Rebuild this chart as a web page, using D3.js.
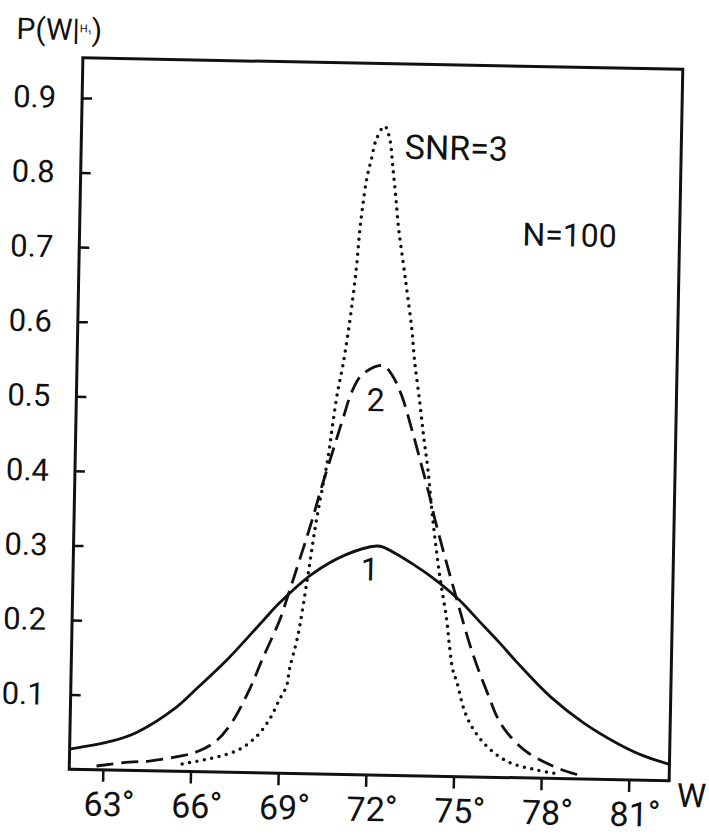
<!DOCTYPE html>
<html>
<head>
<meta charset="utf-8">
<script src="https://cdn.jsdelivr.net/npm/d3@7/dist/d3.min.js"></script>
<style>
  html, body { margin: 0; padding: 0; background: #fff; }
  svg { display: block; }
  text { font-family: Roboto, "Open Sans", sans-serif; fill: #111; }
</style>
</head>
<body>
<script>
// Axis ticks
const yTicks = [0.1, 0.2, 0.3, 0.4, 0.5, 0.6, 0.7, 0.8, 0.9];
const xTicks = [63, 66, 69, 72, 75, 78, 81];
const xTickLabels = ["63", "66", "69", "72", "75", "78", "81"];

// Curve 1 (solid)
const w1 = [61.85, 63.31, 64.13, 65.48, 66.15, 67.16, 68.36, 68.93, 70.04, 71.2, 72.22, 72.42,
            73.46, 74.4, 75.1, 75.8, 76.5, 77.09, 78.25, 79.39, 80.57, 81.47, 82.38];
const p1 = [0.027, 0.039, 0.051, 0.086, 0.111, 0.150, 0.203, 0.228, 0.268, 0.295, 0.307, 0.306,
            0.284, 0.259, 0.236, 0.208, 0.180, 0.155, 0.110, 0.076, 0.049, 0.033, 0.022];

// Curve 2 (dashed)
const w2 = [62.78, 63.9, 64.58, 65.72, 66.29, 66.87, 67.40, 67.97, 68.39, 68.95, 69.17, 70.01,
            70.23, 70.65, 70.97, 71.29, 71.63, 72.31, 72.66, 72.98, 73.34, 73.71, 74.0, 74.19,
            75.0, 75.58, 76.19, 76.44, 76.79, 77.49, 78.63, 79.43];
const p2 = [0.005, 0.011, 0.013, 0.021, 0.028, 0.042, 0.068, 0.112, 0.153, 0.205, 0.232, 0.342,
            0.375, 0.432, 0.475, 0.515, 0.537, 0.549, 0.535, 0.509, 0.465, 0.415, 0.375, 0.345,
            0.237, 0.165, 0.105, 0.082, 0.061, 0.035, 0.013, 0.004];

// Curve SNR=3 (dotted)
const w3 = [65.71, 66.88, 67.66, 68.24, 68.67, 69.0, 69.23, 69.32, 69.58, 69.88, 70.15, 70.49,
            70.63, 70.78, 70.94, 71.09, 71.24, 71.35, 71.43, 71.52, 71.64, 71.79, 71.95, 72.22,
            72.40, 72.52, 72.64, 72.77, 72.96, 73.08, 73.28, 73.40, 73.60, 73.76, 73.92, 74.12,
            74.40, 74.66, 74.79, 74.90, 75.05, 75.41, 75.98, 76.81, 77.71, 78.64];
const p3 = [0.010, 0.020, 0.031, 0.049, 0.072, 0.099, 0.117, 0.140, 0.184, 0.264, 0.342, 0.422,
            0.467, 0.512, 0.547, 0.588, 0.638, 0.682, 0.727, 0.762, 0.799, 0.826, 0.853, 0.870,
            0.853, 0.817, 0.777, 0.731, 0.683, 0.652, 0.599, 0.555, 0.501, 0.454, 0.412, 0.345,
            0.268, 0.211, 0.171, 0.144, 0.127, 0.081, 0.047, 0.022, 0.012, 0.006];

const W = 709, H = 835;
const svg = d3.select("body").append("svg").attr("width", W).attr("height", H);
svg.append("rect").attr("width", W).attr("height", H).attr("fill", "#fff");

// the whole plate sits slightly turned
const g = svg.append("g").attr("transform", "rotate(1.1 375 420)");

const x = d3.scaleLinear().domain([61.85, 82.38]).range([76, 676]);
const y = d3.scaleLinear().domain([0, 0.9537]).range([775, 63.5]);

// frame
g.append("rect")
  .attr("x", x.range()[0]).attr("y", y.range()[1])
  .attr("width", x.range()[1] - x.range()[0])
  .attr("height", y.range()[0] - y.range()[1])
  .attr("fill", "none").attr("stroke", "#111").attr("stroke-width", 3);

// y axis: inward ticks
const yAxis = g.append("g").attr("transform", `translate(${x.range()[0]},0)`)
  .call(d3.axisLeft(y).tickValues(yTicks).tickSize(-10).tickPadding(26).tickFormat(d3.format(".1f")));
yAxis.select(".domain").remove();
yAxis.selectAll(".tick line").attr("stroke", "#111").attr("stroke-width", 2.5);
yAxis.selectAll(".tick text").attr("font-size", 31).attr("font-family", null).attr("fill", "#111");

// x axis: outward ticks, degree labels
const xAxis = g.append("g").attr("transform", `translate(0,${y.range()[0]})`)
  .call(d3.axisBottom(x).tickValues(xTicks).tickSize(12).tickPadding(10)
        .tickFormat((d, i) => xTickLabels[i]));
xAxis.select(".domain").remove();
xAxis.selectAll(".tick line").attr("stroke", "#111").attr("stroke-width", 2.5);
xAxis.selectAll(".tick text").attr("font-size", 34).attr("font-family", null).attr("fill", "#111")
  .each(function () {
    const t = d3.select(this);
    const len = this.getComputedTextLength();
    t.attr("text-anchor", "start").attr("x", -len / 2);
    t.append("tspan").attr("dy", "-0.05em").text("°");
  });

// axis titles
const yTitle = g.append("text").attr("x", 9).attr("y", 46).attr("font-size", 30);
yTitle.append("tspan").text("P(W|");
yTitle.append("tspan").attr("font-size", 11).attr("dy", -8).text("H₁");
yTitle.append("tspan").attr("dy", 8).text(")");

g.append("text").attr("x", x.range()[1] + 8).attr("y", y.range()[0] + 26)
  .attr("font-size", 33).text("W");

// curves
const line = d3.line().x(d => x(d[0])).y(d => y(d[1])).curve(d3.curveCatmullRom.alpha(0.5));
const pts = (ws, ps) => ws.map((w, i) => [w, ps[i]]);

g.append("path").attr("d", line(pts(w1, p1)))
  .attr("fill", "none").attr("stroke", "#111").attr("stroke-width", 2.8);

g.append("path").attr("d", line(pts(w2, p2)))
  .attr("fill", "none").attr("stroke", "#111").attr("stroke-width", 2.8)
  .attr("stroke-dasharray", "17 8");

g.append("path").attr("d", line(pts(w3, p3)))
  .attr("fill", "none").attr("stroke", "#111").attr("stroke-width", 3.5)
  .attr("stroke-linecap", "round").attr("stroke-dasharray", "0 7.5");

// curve annotations
g.append("text").attr("x", x(72.0)).attr("y", y(0.276)).attr("dy", "0.36em")
  .attr("text-anchor", "middle").attr("font-size", 32).text("1");
g.append("text").attr("x", x(72.09)).attr("y", y(0.503)).attr("dy", "0.36em")
  .attr("text-anchor", "middle").attr("font-size", 32).text("2");
g.append("text").attr("x", x(72.92)).attr("y", y(0.843)).attr("dy", "0.36em")
  .attr("font-size", 34).text("SNR=3");
g.append("text").attr("x", x(77.0)).attr("y", y(0.729)).attr("dy", "0.36em")
  .attr("font-size", 32).text("N=100");
</script>
</body>
</html>
